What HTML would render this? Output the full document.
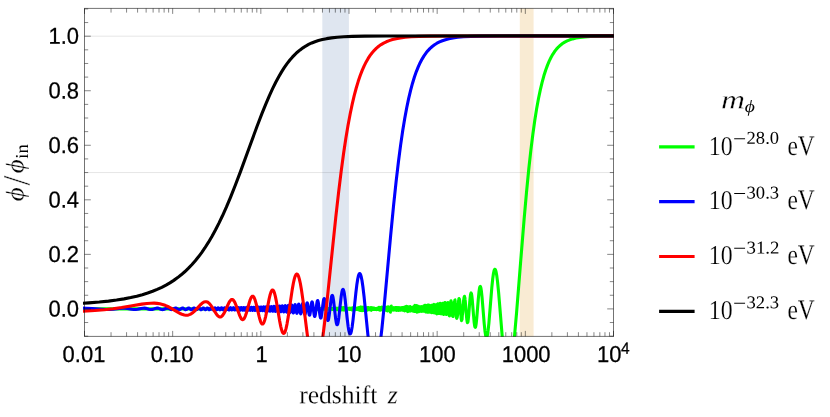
<!DOCTYPE html>
<html lang="en"><head><meta charset="utf-8"><title>phi evolution</title>
<style>
html,body{margin:0;padding:0;background:#fff;}
body{width:830px;height:417px;overflow:hidden;position:relative;font-family:"Liberation Sans",sans-serif;}
svg{position:absolute;left:0;top:0;}
text{font-kerning:none;fill:#000;}
svg{will-change:transform;}
.sf{font-family:"Liberation Serif",serif;}
.tk{font-family:"Liberation Sans",sans-serif;font-size:22px;stroke:#000;stroke-width:0.25px;}
</style></head><body>
<svg width="830" height="417" viewBox="0 0 830 417">
<rect x="0" y="0" width="830" height="417" fill="#ffffff"/>
<defs><clipPath id="cp"><rect x="82.80" y="8.00" width="531.00" height="328.80"/></clipPath></defs>
<rect x="322.3" y="8.40" width="26.6" height="328.00" fill="rgb(94,129,181)" fill-opacity="0.2"/>
<rect x="519.8" y="8.40" width="13.8" height="328.00" fill="rgb(225,156,36)" fill-opacity="0.2"/>
<line x1="84.50" x2="613.50" y1="36.20" y2="36.20" stroke="#000" stroke-opacity="0.13" stroke-width="0.8"/>
<line x1="84.50" x2="613.50" y1="172.55" y2="172.55" stroke="#000" stroke-opacity="0.13" stroke-width="0.8"/>
<g clip-path="url(#cp)" fill="none" stroke-width="3.10" stroke-linejoin="round" stroke-linecap="square">
<path d="M613.50,35.96 L599.23,36.13 L590.78,36.43 L584.72,36.86 L579.98,37.40 L576.06,38.07 L572.72,38.87 L569.79,39.81 L567.15,40.89 L564.74,42.13 L562.50,43.55 L560.40,45.17 L558.39,47.02 L556.46,49.13 L554.59,51.54 L552.77,54.31 L550.97,57.48 L549.19,61.14 L547.42,65.35 L545.65,70.20 L543.88,75.83 L542.10,82.33 L540.31,89.84 L538.50,98.52 L536.67,108.59 L534.80,120.28 L532.88,133.94 L530.90,149.90 L528.81,168.75 L526.59,191.28 L524.10,219.32 L520.81,259.67 L516.58,312.65 L514.61,334.94 L513.13,349.50 L511.94,359.25 L510.96,365.67 L510.15,366.40 L509.48,366.40 L508.94,366.40 L508.51,366.40 L508.17,366.40 L507.84,366.40 L507.45,366.40 L506.97,366.40 L506.38,366.40 L505.66,366.40 L504.82,361.94 L503.80,353.42 L502.54,340.28 L500.40,314.04 L498.60,292.31 L497.53,281.60 L496.73,275.40 L496.10,271.90 L495.61,270.17 L495.24,269.44 L494.97,269.25 L494.72,269.32 L494.40,269.78 L493.97,271.04 L493.41,273.74 L492.72,278.75 L491.81,287.60 L490.26,306.50 L488.87,323.30 L488.06,330.88 L487.47,334.81 L487.03,336.64 L486.71,337.31 L486.49,337.45 L486.27,337.32 L485.96,336.67 L485.53,334.86 L484.96,330.94 L484.18,323.31 L482.02,296.93 L481.34,290.70 L480.87,287.85 L480.52,286.72 L480.30,286.43 L480.12,286.46 L479.86,286.92 L479.49,288.43 L478.98,292.03 L478.24,299.76 L476.73,318.42 L476.20,323.44 L475.78,326.07 L475.57,326.90 L475.36,327.28 L475.25,327.33 L475.15,327.31 L474.93,326.87 L474.62,325.53 L474.19,322.52 L473.45,314.43 L472.29,300.03 L471.87,296.10 L471.44,293.59 L471.34,293.50 L471.23,293.47 L471.13,293.03 L471.02,292.94 L470.91,293.48 L470.81,293.52 L470.60,294.64 L470.49,294.90 L469.96,299.40 L469.86,301.06 L469.75,301.79 L468.69,315.48 L468.48,317.17 L468.27,319.37 L468.16,319.97 L468.06,321.18 L467.85,322.11 L467.74,322.26 L467.53,322.29 L467.42,322.65 L467.32,322.05 L467.21,322.08 L466.79,319.16 L466.68,317.99 L466.58,317.49 L466.05,311.02 L465.52,304.07 L465.20,300.64 L465.10,300.00 L464.88,297.56 L464.78,298.14 L464.67,297.69 L464.46,296.30 L464.35,296.96 L464.25,296.75 L464.04,297.61 L463.83,299.46 L463.61,300.32 L463.30,303.73 L463.09,307.73 L462.98,307.74 L462.77,312.15 L462.45,314.65 L462.34,314.84 L462.03,319.64 L461.92,318.68 L461.82,319.12 L461.60,319.12 L461.50,320.74 L461.39,318.17 L461.29,319.36 L461.18,318.94 L461.07,316.34 L460.86,314.77 L460.76,314.97 L460.55,310.14 L460.44,309.13 L460.33,309.75 L460.12,306.60 L460.02,304.06 L459.91,304.56 L459.81,303.72 L459.70,300.67 L459.59,301.67 L459.49,299.26 L459.38,299.14 L459.28,299.72 L459.06,300.19 L458.96,298.48 L458.75,300.80 L458.64,299.98 L458.54,302.53 L458.32,304.57 L458.22,306.86 L458.11,307.46 L458.01,309.01 L457.90,309.24 L457.80,311.92 L457.69,311.25 L457.48,315.60 L457.37,316.04 L457.27,316.98 L457.16,316.94 L457.05,317.66 L456.95,317.77 L456.84,317.54 L456.63,318.30 L456.53,317.76 L456.42,315.56 L456.21,313.26 L456.10,313.69 L456.00,310.98 L455.89,310.59 L455.78,308.75 L455.68,308.16 L455.57,305.38 L455.47,305.58 L455.36,303.26 L455.26,303.73 L455.15,301.18 L454.94,299.92 L454.83,301.62 L454.73,301.13 L454.52,301.35 L454.41,303.08 L454.30,303.98 L454.20,302.77 L453.99,307.09 L453.88,307.25 L453.77,310.19 L453.67,309.91 L453.56,310.55 L453.46,313.77 L453.35,313.72 L453.14,316.51 L453.03,315.63 L452.93,316.56 L452.72,315.17 L452.61,315.79 L452.50,315.65 L452.40,315.76 L452.29,312.76 L452.08,312.03 L451.98,308.65 L451.87,308.14 L451.66,305.39 L451.55,303.12 L451.45,302.20 L451.34,302.85 L451.24,302.70 L451.13,301.22 L451.02,301.89 L450.92,300.86 L450.81,302.87 L450.71,302.17 L450.60,303.26 L450.49,305.45 L450.39,306.13 L450.28,308.32 L450.18,309.03 L450.07,310.88 L449.97,311.41 L449.75,314.31 L449.65,314.42 L449.54,315.60 L449.44,315.87 L449.33,315.83 L448.91,312.63 L448.80,312.32 L448.59,309.12 L448.38,306.08 L447.96,302.59 L447.85,302.62 L447.74,302.58 L447.64,302.69 L447.32,304.94 L447.21,306.90 L447.11,307.96 L447.00,310.06 L446.58,313.95 L446.47,314.49 L446.37,314.56 L446.26,314.56 L446.16,313.96 L446.05,313.85 L445.84,311.07 L445.73,310.88 L445.42,305.81 L445.31,305.85 L445.20,304.96 L445.10,303.21 L444.99,302.49 L444.89,303.43 L444.78,302.60 L444.68,305.02 L444.46,306.62 L444.36,306.97 L444.25,308.86 L444.15,308.05 L444.04,312.49 L443.94,312.81 L443.83,314.52 L443.72,314.27 L443.62,313.52 L443.51,314.34 L443.41,312.51 L443.30,312.11 L443.19,312.71 L442.98,307.96 L442.88,307.48 L442.77,305.36 L442.67,305.68 L442.56,303.42 L442.45,304.82 L442.35,303.63 L442.24,304.94 L442.14,305.40 L442.03,305.51 L441.92,305.45 L441.61,311.65 L441.50,312.37 L441.40,311.76 L441.29,313.36 L441.18,313.49 L441.08,313.84 L440.97,312.26 L440.87,312.77 L440.66,309.22 L440.55,309.77 L440.34,305.03 L440.23,304.92 L440.13,304.94 L440.02,303.20 L439.91,304.51 L439.81,304.67 L439.49,309.10 L439.39,308.90 L439.28,311.90 L439.17,311.29 L439.07,312.58 L438.96,312.99 L438.86,312.99 L438.75,313.45 L438.54,311.99 L438.33,308.65 L438.22,305.11 L438.12,306.85 L438.01,305.64 L437.90,305.06 L437.80,303.83 L437.69,304.07 L437.48,305.73 L437.16,310.51 L437.06,312.61 L436.95,311.83 L436.85,314.01 L436.74,313.83 L436.63,311.57 L436.53,311.84 L436.42,308.88 L436.21,307.23 L436.11,305.94 L436.00,306.71 L435.89,304.82 L435.68,305.51 L435.47,308.87 L435.37,307.87 L435.15,310.06 L435.05,312.33 L434.94,313.03 L434.84,311.00 L434.73,310.70 L434.62,312.86 L434.52,310.30 L434.41,309.72 L434.31,305.82 L434.10,304.52 L433.99,304.44 L433.88,306.86 L433.78,308.10 L433.67,306.30 L433.46,310.81 L433.35,309.74 L433.25,310.50 L433.14,312.72 L433.04,311.27 L432.93,310.82 L432.83,309.55 L432.72,309.97 L432.51,307.81 L432.40,305.17 L432.30,305.13 L432.19,306.08 L432.09,306.18 L431.98,306.99 L431.87,310.35 L431.77,310.58 L431.66,310.60 L431.56,312.73 L431.45,311.50 L431.24,310.76 L431.03,308.55 L430.92,309.01 L430.82,306.49 L430.71,305.77 L430.60,305.75 L430.39,308.50 L430.29,308.57 L430.18,311.12 L430.08,310.67 L429.97,311.16 L429.86,312.19 L429.76,310.62 L429.65,310.97 L429.55,309.23 L429.44,308.28 L429.33,305.79 L429.23,305.22 L429.12,305.51 L429.02,305.44 L428.91,308.15 L428.81,309.48 L428.59,310.99 L428.49,312.15 L428.38,311.90 L428.17,310.63 L427.96,306.92 L427.85,306.43 L427.75,305.15 L427.43,307.56 L427.32,310.70 L427.22,310.58 L427.11,312.12 L427.01,311.17 L426.90,311.04 L426.80,310.69 L426.69,307.68 L426.58,306.45 L426.48,305.92 L426.37,306.22 L426.27,305.95 L426.16,307.86 L426.05,308.27 L425.84,312.06 L425.74,311.97 L425.63,311.15 L425.53,309.64 L425.31,307.99 L425.21,305.24 L425.10,305.28 L425.00,306.63 L424.89,306.39 L424.78,307.68 L424.68,310.97 L424.57,310.59 L424.47,311.18 L424.26,310.72 L424.04,306.68 L423.94,306.77 L423.83,305.71 L423.62,308.87 L423.41,310.81 L423.30,311.03 L423.20,310.84 L422.99,309.38 L422.88,307.58 L422.77,306.82 L422.67,306.81 L422.56,307.01 L422.35,309.65 L422.14,311.05 L422.03,311.24 L421.72,307.41 L421.61,306.65 L421.51,306.61 L421.40,307.22 L421.08,310.92 L420.98,311.35 L420.55,306.72 L420.45,306.70 L420.24,308.47 L420.13,310.35 L420.02,310.72 L419.92,310.78 L419.60,307.37 L419.49,307.29 L419.39,306.86 L419.18,309.22 L419.07,309.91 L418.97,311.63 L418.86,311.10 L418.65,307.52 L418.44,306.26 L418.33,306.60 L418.23,309.31 L418.12,310.56 L418.01,311.23 L417.59,306.94 L417.48,307.72 L417.38,307.71 L417.27,309.97 L417.17,308.88 L417.06,312.14 L416.96,311.56 L416.74,306.60 L416.64,308.54 L416.53,305.59 L416.43,306.30 L416.21,309.34 L416.11,309.83 L416.00,311.45 L415.79,306.49 L415.69,308.15 L415.47,308.85 L415.37,311.16 L415.16,308.90 L415.05,309.59 L414.95,308.99 L414.84,305.42 L414.73,306.92 L414.63,306.95 L414.52,308.32 L414.42,311.55 L414.31,309.48 L414.20,309.07 L414.10,306.21 L413.99,308.46 L413.89,307.13 L413.68,311.07 L413.57,311.07 L413.46,309.55 L413.36,309.37 L413.25,307.80 L413.15,307.93 L413.04,309.31 L412.94,308.36 L412.72,311.08 L412.62,310.37 L412.51,308.62 L412.41,308.21 L412.30,307.40 L412.19,309.87 L412.09,309.54 L411.98,310.82 L411.88,310.19 L411.67,308.31 L411.56,308.39 L411.45,307.62 L411.35,309.36 L411.14,310.51 L410.92,307.73 L410.82,308.60 L410.71,308.46 L410.50,309.70 L410.40,309.98 L410.29,309.45 L410.18,307.33 L410.08,306.64 L409.97,309.47 L409.87,310.61 L409.76,311.10 L409.44,307.04 L409.34,307.80 L409.23,309.87 L409.13,308.80 L409.02,308.51 L408.91,310.25 L408.81,307.38 L408.70,307.81 L408.60,310.52 L408.49,309.36 L408.39,311.09 L408.28,308.68 L408.17,308.91 L408.07,306.86 L407.96,309.94 L407.86,308.76 L407.75,311.63 L407.65,309.56 L407.54,308.94 L407.43,306.85 L407.33,308.29 L407.22,311.08 L407.12,309.71 L407.01,309.43 L406.90,308.85 L406.80,306.62 L406.69,309.31 L406.59,309.17 L406.48,309.24 L406.27,306.20 L406.16,308.75 L405.95,309.26 L405.85,308.95 L405.74,309.73 L405.63,307.95 L405.53,309.00 L405.42,308.68 L405.32,310.14 L405.11,307.17 L405.00,308.77 L404.89,309.24 L404.79,308.85 L404.68,310.92 L404.58,309.76 L404.47,307.38 L404.37,307.16 L404.15,310.45 L403.94,307.25 L403.84,307.25 L403.73,308.35 L403.62,310.48 L403.41,307.98 L403.31,307.55 L403.20,308.14 L403.10,309.42 L402.99,310.11 L402.78,307.43 L402.67,308.18 L402.57,310.13 L402.46,310.12 L402.35,308.23 L402.25,307.60 L402.14,308.23 L402.04,309.85 L401.93,309.94 L401.83,308.60 L401.72,308.02 L401.61,308.54 L401.51,309.78 L401.19,307.92 L400.98,309.63 L400.87,309.26 L400.77,308.48 L400.66,308.15 L400.56,308.84 L400.45,310.26 L400.24,307.77 L400.03,309.14 L399.92,309.09 L399.82,308.08 L399.60,308.25 L399.50,309.99 L399.39,308.45 L399.29,307.82 L399.18,308.96 L399.08,309.52 L398.97,309.49 L398.86,309.05 L398.76,307.77 L398.55,310.46 L398.44,309.67 L398.33,307.81 L398.23,308.03 L398.12,308.97 L398.02,309.26 L397.91,308.17 L397.70,310.21 L397.49,307.95 L397.38,307.79 L397.28,309.83 L397.06,307.52 L396.96,307.50 L396.85,309.35 L396.64,307.84 L396.54,308.67 L396.43,310.35 L396.22,307.61 L396.11,307.72 L395.90,309.84 L395.80,308.06 L395.69,308.53 L395.58,310.03 L395.48,308.94 L395.37,308.79 L395.27,307.92 L395.05,309.83 L394.95,307.78 L394.74,309.68 L394.63,308.16 L394.53,308.34 L394.42,309.31 L394.31,309.51 L394.21,308.57 L394.10,308.22 L394.00,309.92 L393.89,309.97 L393.79,307.64 L393.68,309.27 L393.57,309.23 L393.47,308.08 L393.26,309.17 L393.15,310.17 L393.04,308.45 L392.94,308.40 L392.83,308.83 L392.73,309.66 L392.62,307.75 L392.52,309.90 L392.41,309.56 L392.30,308.35 L392.20,308.21 L392.09,309.96 L391.88,308.10 L391.77,309.92 L391.67,309.27 L391.56,309.22 L391.46,308.08 L391.35,308.50 L391.25,306.13 L391.03,310.51 L390.93,309.90 L390.82,307.47 L390.61,309.46 L390.51,308.35 L390.40,312.24 L390.19,307.90 L390.08,307.61 L389.98,310.68 L389.87,308.90 L389.76,308.17 L389.66,308.80 L389.55,310.12 L389.45,307.24 L389.34,308.71 L389.24,308.16 L389.13,309.73 L389.02,310.05 L388.92,309.13 L388.81,308.85 L388.71,307.68 L388.60,309.48 L388.49,309.86 L388.28,306.96 L388.18,307.62 L388.07,306.71 L387.97,308.98 L387.86,307.09 L387.75,309.40 L387.65,306.98 L387.54,310.37 L387.44,310.98 L387.33,308.42 L387.23,309.03 L387.12,308.95 L386.91,310.73 L386.80,309.29 L386.70,309.12 L386.48,307.31 L386.38,308.39 L386.17,309.57 L386.06,308.04 L385.96,307.72 L385.85,308.49 L385.74,310.22 L385.64,309.91 L385.53,308.02 L385.43,308.99 L385.32,307.11 L385.22,308.27 L385.11,308.29 L385.00,308.92 L384.79,307.99 L384.69,309.12 L384.58,308.82 L384.47,307.50 L384.37,309.91 L384.26,308.25 L384.16,308.10 L384.05,309.04 L383.95,307.47 L383.84,308.97 L383.73,307.98 L383.63,308.68 L383.52,308.69 L383.42,307.54 L383.31,310.12 L383.10,307.61 L382.99,309.14 L382.89,309.11 L382.68,307.83 L382.57,307.70 L382.46,308.99 L382.36,307.47 L382.25,309.12 L382.15,309.44 L382.04,309.45 L381.94,308.45 L381.83,308.43 L381.72,309.60 L381.62,307.14 L381.51,308.22 L381.41,307.21 L381.30,308.44 L381.19,308.93 L380.98,309.05 L380.77,308.70 L380.67,308.19 L380.56,309.01 L380.45,309.44 L380.24,308.63 L380.14,310.30 L380.03,308.32 L379.92,307.90 L379.82,309.83 L379.71,308.48 L379.61,309.68 L379.50,308.77 L379.40,308.85 L379.29,308.42 L379.18,309.73 L379.08,308.41 L378.97,309.53 L378.87,307.37 L378.76,308.84 L378.66,309.63 L378.55,308.53 L378.34,309.01 L378.23,308.36 L378.13,309.15 L378.02,308.31 L377.91,309.15 L377.70,309.47 L377.60,308.67 L377.49,309.18 L377.28,308.80 L377.17,308.22 L376.96,308.94 L376.86,309.10 L376.75,308.46 L376.65,309.59 L376.54,308.58 L376.43,309.44 L376.33,308.65 L376.22,309.41 L376.12,308.62 L376.01,309.45 L375.90,308.63 L375.80,309.33 L375.69,308.69 L375.59,309.21 L375.48,308.55 L375.27,308.97 L375.16,308.53 L375.06,309.14 L374.95,308.51 L374.85,309.42 L374.74,308.34 L374.63,309.05 L374.42,308.81 L374.32,309.20 L374.21,308.62 L374.11,309.21 L374.00,308.15 L373.89,309.08 L373.79,308.30 L373.68,308.81 L373.58,308.82 L373.47,308.22 L373.37,308.96 L373.26,308.37 L373.15,309.53 L373.05,308.27 L372.94,308.50 L372.84,309.10 L372.73,307.87 L372.62,309.39 L372.52,308.45 L372.41,308.27 L372.20,308.80 L372.10,309.41 L371.88,308.37 L371.78,308.39 L371.67,308.82 L371.57,309.76 L371.46,308.00 L371.25,310.32 L371.14,309.95 L371.04,307.47 L370.93,308.20 L370.83,309.75 L370.72,308.23 L370.61,309.40 L370.51,308.04 L370.40,309.90 L370.30,307.80 L370.19,309.07 L370.09,307.72 L369.98,309.46 L369.87,308.58 L369.77,309.63 L369.66,309.13 L369.56,307.98 L369.45,308.00 L369.34,309.05 L369.24,309.16 L369.13,308.76 L369.03,309.75 L368.92,307.80 L368.71,308.89 L368.60,308.66 L368.50,307.48 L368.39,309.10 L368.29,309.29 L368.18,308.35 L367.97,309.19 L367.86,307.85 L367.76,309.99 L367.65,309.26 L367.55,307.77 L367.33,309.47 L367.23,309.26 L367.12,308.05 L367.02,307.88 L366.81,308.96 L366.70,308.29 L366.59,308.57 L366.49,309.31 L366.38,309.66 L366.28,309.67 L366.17,308.18 L366.06,310.86 L365.96,309.41 L365.85,309.37 L365.64,308.40 L365.54,309.28 L365.43,309.22 L365.32,307.40 L365.22,308.26 L365.11,310.26 L365.01,309.26 L364.90,307.44 L364.80,309.12 L364.69,309.32 L364.58,309.33 L364.48,307.71 L364.37,310.06 L364.27,308.79 L364.16,308.91 L363.95,310.01 L363.84,307.26 L363.74,307.89 L363.63,307.33 L363.42,310.48 L363.31,309.67 L363.21,308.13 L363.10,310.51 L363.00,307.49 L362.89,310.17 L362.79,307.24 L362.57,310.50 L362.47,308.27 L362.26,307.50 L362.15,308.98 L362.04,307.27 L361.94,310.65 L361.83,307.41 L361.73,308.89 L361.62,308.52 L361.52,309.94 L361.41,308.01 L361.30,309.36 L361.20,307.27 L361.09,308.35 L360.99,307.14 L360.77,310.15 L360.67,309.86 L360.56,310.28 L360.46,310.37 L360.35,307.51 L360.25,307.59 L360.14,307.46 L360.03,308.98 L359.93,307.41 L359.72,310.07 L359.61,307.61 L359.51,308.25 L359.40,307.90 L359.29,310.08 L359.19,310.06 L359.08,308.02 L358.98,307.56 L358.87,307.63 L358.76,309.28 L358.66,308.43 L358.55,308.45 L358.45,308.86 L358.34,309.67 L358.24,309.03 L358.13,307.75 L357.92,308.63 L357.81,308.22 L357.71,308.54 L357.60,308.58 L357.49,308.11 L357.39,308.70 L357.28,308.01 L357.18,308.27 L357.07,308.84 L356.97,308.86 L356.75,309.40 L356.65,309.22 L356.54,309.23 L356.44,309.00 L356.23,309.46 L356.12,308.62 L356.01,308.29 L355.91,309.17 L355.80,309.04 L355.70,308.16 L355.59,308.32 L355.48,309.20 L355.38,309.32 L355.27,309.02 L355.17,309.73 L354.96,309.29 L354.85,309.37 L354.74,308.49 L354.64,308.29 L354.43,308.87 L354.32,309.35 L354.22,308.74 L354.11,309.12 L354.00,308.51 L353.79,309.55 L353.69,309.65 L353.58,308.18 L353.37,309.73 L353.26,309.61 L353.05,308.00 L352.95,309.99 L352.84,309.18 L352.73,309.67 L352.63,308.14 L352.52,308.21 L352.42,308.16 L352.31,309.33 L352.20,307.78 L352.10,309.76 L351.99,309.82 L351.89,308.12 L351.78,308.64 L351.68,309.70 L351.57,309.17 L351.46,309.39 L351.36,308.27 L351.25,308.63 L351.15,309.43 L351.04,309.38 L350.94,309.43 L350.83,308.77 L350.72,308.47 L350.62,308.50 L350.51,308.36 L350.41,308.94 L350.30,309.03 L350.19,308.52 L349.98,309.28 L349.88,308.41 L349.77,309.30 L349.67,308.62 L349.56,309.04 L349.45,309.27 L349.24,308.29 L349.14,309.06 L349.03,308.74 L348.82,308.78 L348.71,308.44 L348.50,308.77 L348.40,308.63 L348.29,309.30 L348.18,308.49 L348.08,309.03 L347.97,309.03 L347.87,308.89 L347.76,308.98 L347.66,309.01 L347.55,308.62 L347.34,308.41 L347.23,309.13 L347.13,308.91 L347.02,309.25 L346.91,308.57 L346.81,309.47 L346.70,309.92 L346.49,308.74 L346.39,308.56 L346.28,309.20 L346.17,308.48 L346.07,309.20 L345.96,309.18 L345.86,309.35 L345.75,308.38 L345.65,309.53 L345.54,309.73 L345.43,308.49 L345.33,308.12 L345.12,309.82 L345.01,308.86 L344.80,309.10 L344.69,308.58 L344.59,310.02 L344.48,307.84 L344.38,307.73 L344.27,309.30 L344.16,307.68 L344.06,309.68 L343.95,308.89 L343.85,308.64 L343.63,309.94 L343.53,309.11 L343.42,307.53 L343.32,309.27 L343.21,308.72 L343.11,309.25 L343.00,309.36 L342.68,309.00 L342.58,309.35 L342.47,309.50 L342.37,308.18 L342.26,308.35 L342.15,308.12 L342.05,308.52 L341.94,307.98 L341.84,309.98 L341.62,308.12 L341.52,307.70 L341.41,309.45 L341.20,307.97 L341.10,308.22 L340.99,308.15 L340.88,307.98 L340.78,309.36 L340.67,309.66 L340.57,308.46 L340.46,307.82 L340.25,309.47 L340.14,309.04 L340.04,308.13 L339.93,307.87 L339.83,308.21 L339.72,308.93 L339.61,308.25 L339.51,308.55 L339.40,308.40 L339.30,308.84 L339.19,308.66 L339.09,309.10 L338.98,309.13 L338.77,309.51 L338.56,309.46 L338.45,308.19 L338.34,308.04 L338.24,309.48 L338.13,309.18 L338.03,309.09 L337.92,309.57 L337.82,308.34 L337.60,308.82 L337.50,309.36 L337.39,308.87 L337.29,309.27 L337.18,308.95 L336.86,309.66 L336.76,309.66 L336.33,309.49 L336.23,308.29 L336.02,309.58 L335.81,308.41 L335.70,309.49 L335.59,309.74 L335.38,308.95 L335.28,309.05 L335.17,308.82 L335.07,309.70 L334.96,309.76 L334.85,308.87 L334.75,309.74 L334.54,308.02 L334.43,309.09 L334.22,308.19 L334.11,309.80 L334.01,308.48 L333.90,308.57 L333.80,309.57 L333.69,308.87 L333.58,309.59 L333.48,308.17 L333.37,309.01 L333.27,308.43 L333.16,308.38 L332.95,309.26 L332.84,309.37 L332.63,309.01 L332.53,309.38 L332.42,309.19 L332.31,308.44 L332.21,308.81 L332.00,309.13 L331.89,308.72 L331.79,309.21 L331.68,309.19 L331.57,309.34 L331.47,308.84 L331.36,308.92 L331.15,308.64 L331.04,309.05 L330.94,308.69 L330.83,308.99 L330.73,308.91 L330.62,309.02 L330.41,308.81 L330.20,309.05 L330.09,308.90 L329.99,308.99 L329.88,308.67 L329.77,309.01 L329.56,308.81 L329.46,308.88 L329.35,308.89 L329.14,308.80 L329.03,308.68 L328.93,308.95 L328.82,308.67 L328.72,308.98 L328.51,308.83 L328.40,309.08 L328.29,308.73 L328.19,308.69 L328.08,309.03 L327.98,308.57 L327.87,308.75 L327.76,308.65 L327.66,308.97 L327.55,308.78 L327.45,309.06 L327.34,309.00 L327.13,309.15 L326.92,308.89 L326.81,309.24 L326.71,308.89 L326.50,308.70 L326.39,308.94 L326.28,309.03 L326.18,308.64 L326.07,308.63 L325.97,309.12 L325.75,308.63 L325.65,308.83 L325.54,308.54 L325.44,309.16 L325.33,309.03 L325.23,309.07 L325.12,308.62 L325.01,308.97 L324.80,309.19 L324.70,308.86 L324.48,309.02 L324.38,308.55 L324.27,308.80 L324.17,308.85 L324.06,308.51 L323.96,308.97 L323.85,308.47 L323.74,309.06 L323.64,308.73 L323.53,308.79 L323.43,309.09 L323.22,308.51 L323.11,308.92 L323.00,308.73 L322.79,308.91 L322.69,308.58 L322.58,309.02 L322.47,308.70 L322.37,309.05 L322.26,309.12 L321.95,308.70 L321.84,308.95 L321.73,308.89 L321.63,308.91 L321.20,308.75 L321.10,308.88 L320.99,308.71 L320.89,308.68 L320.68,308.86 L320.57,309.02 L320.46,308.80 L320.36,308.83 L320.15,309.04 L319.94,308.65 L319.83,308.78 L319.72,308.71 L319.62,308.84 L319.51,309.11 L319.41,308.65 L319.30,308.90 L319.19,308.88 L319.09,309.02 L318.98,308.99 L318.88,308.76 L318.77,309.03 L318.56,309.02 L318.45,308.85 L318.35,309.03 L318.24,308.81 L318.14,308.86 L318.03,308.67 L317.93,308.61 L317.82,309.09 L317.71,309.12 L317.61,308.64 L317.40,309.10 L317.29,309.59 L317.18,309.02 L317.08,308.98 L316.97,309.02 L316.87,308.71 L316.76,309.02 L316.66,309.04 L316.55,308.63 L316.44,308.56 L316.34,308.85 L316.23,308.53 L316.02,309.10 L315.91,308.92 L315.81,309.01 L315.60,308.58 L315.49,308.83 L315.39,308.73 L315.28,308.81 L315.17,308.70 L315.07,308.72 L314.96,309.47 L314.86,308.71 L314.75,308.72 L314.65,308.93 L314.54,308.69 L314.43,308.96 L314.33,308.83 L314.22,309.01 L314.12,308.96 L314.01,308.76 L313.90,308.68 L313.80,308.98 L313.69,308.95 L313.59,308.84 L313.38,308.98 L313.27,308.98 L313.06,308.73 L312.95,308.92 L312.85,308.75 L312.64,308.90 L312.32,308.85 L312.21,308.94 L311.79,308.94 L311.47,308.79 L311.37,308.84 L311.26,308.81 L311.15,308.91 L310.94,308.90 L310.73,308.78 L310.52,308.88 L310.20,308.85 L310.10,308.90 L309.88,308.81 L309.78,308.88 L309.57,308.81 L309.36,308.87 L309.25,308.81 L309.14,308.88 L308.93,308.82 L308.83,308.89 L308.72,308.81 L308.61,308.87 L308.19,308.83 L308.09,308.88 L307.98,308.82 L307.87,308.88 L307.77,308.82 L307.66,308.88 L307.56,308.83 L307.34,308.85 L307.24,308.83 L307.13,308.88 L307.03,308.81 L306.92,308.88 L306.71,308.83 L306.60,308.89 L306.50,308.82 L306.29,308.88 L306.18,308.82 L305.97,308.89 L305.76,308.82 L305.55,308.88 L305.33,308.82 L305.12,308.89 L304.81,308.82 L304.38,308.88 L303.75,308.82 L302.37,308.84 L302.05,308.88 L301.74,308.82 L301.42,308.88 L301.21,308.82 L301.00,308.88 L300.79,308.82 L300.57,308.87 L300.47,308.82 L300.26,308.88 L300.15,308.82 L299.94,308.87 L299.83,308.82 L299.73,308.88 L299.52,308.85 L299.30,308.83 L299.20,308.88 L299.09,308.82 L298.99,308.88 L298.88,308.82 L298.78,308.88 L298.67,308.82 L298.56,308.88 L298.46,308.82 L298.35,308.88 L298.25,308.83 L298.03,308.85 L297.93,308.83 L297.82,308.88 L297.72,308.82 L297.51,308.86 L297.40,308.82 L297.19,308.86 L297.08,308.82 L296.87,308.87 L296.66,308.83 L296.45,308.87 L296.24,308.83 L295.92,308.86 L295.60,308.84 L295.18,308.86 L293.70,308.83 L293.06,308.85 L292.74,308.84 L292.43,308.85 L292.00,308.86 L291.79,308.85 L291.58,308.84 L291.26,308.85 L291.16,308.83 L291.05,308.87 L290.84,308.84 L290.73,308.87 L290.63,308.83 L290.42,308.84 L290.10,308.83 L289.99,308.87 L289.89,308.83 L289.78,308.87 L289.68,308.83 L289.57,308.87 L289.46,308.83 L289.36,308.87 L288.94,308.84 L288.83,308.87 L288.72,308.83 L288.51,308.85 L288.41,308.83 L288.30,308.87 L288.09,308.83 L287.88,308.85 L287.03,308.84 L286.50,308.85 L285.34,308.83 L283.65,308.85 L283.01,308.85 L282.27,308.85 L281.00,308.83 L280.58,308.86 L280.47,308.83 L280.37,308.87 L280.26,308.83 L278.88,308.87 L278.78,308.83 L278.36,308.86 L277.93,308.84 L277.40,308.85 L84.53,308.85" stroke="#00ff00"/>
<path d="M613.50,35.90 L500.06,35.95 L481.49,36.11 L470.89,36.39 L463.44,36.80 L457.67,37.33 L452.96,37.98 L448.96,38.75 L445.47,39.66 L442.36,40.70 L439.54,41.89 L436.95,43.24 L434.53,44.77 L432.26,46.48 L430.09,48.42 L428.01,50.60 L425.98,53.08 L424.01,55.89 L422.07,59.07 L420.14,62.70 L418.24,66.84 L416.34,71.58 L414.43,77.00 L412.53,83.19 L410.60,90.30 L408.68,98.39 L406.72,107.72 L404.73,118.46 L402.70,130.80 L400.61,145.14 L398.44,161.74 L396.13,181.42 L393.61,205.18 L390.62,235.88 L384.10,306.80 L381.97,327.97 L380.34,342.10 L379.02,351.86 L377.93,358.47 L377.01,362.83 L376.24,365.60 L375.60,366.40 L375.07,366.40 L374.65,366.40 L374.28,366.40 L373.89,366.40 L373.43,366.40 L372.87,366.40 L372.20,364.45 L371.40,361.00 L370.47,355.63 L369.34,347.42 L367.91,334.83 L364.10,296.90 L362.90,286.74 L361.99,280.56 L361.26,276.94 L360.68,274.94 L360.24,274.01 L359.89,273.65 L359.61,273.60 L359.29,273.82 L358.88,274.52 L358.37,276.04 L357.72,279.01 L356.91,284.18 L355.83,293.08 L353.05,319.86 L352.13,326.97 L351.46,330.80 L350.95,332.76 L350.56,333.63 L350.28,333.91 L350.03,333.91 L349.73,333.60 L349.33,332.64 L348.80,330.47 L348.11,326.25 L347.14,318.20 L345.15,299.46 L344.39,293.91 L343.84,291.13 L343.44,289.88 L343.14,289.43 L342.91,289.37 L342.66,289.58 L342.31,290.39 L341.83,292.37 L341.18,296.57 L340.14,305.68 L338.85,317.41 L338.20,321.83 L337.74,323.83 L337.41,324.60 L337.18,324.78 L336.96,324.69 L336.67,324.12 L336.24,322.50 L335.66,318.87 L334.64,309.95 L333.61,300.97 L333.05,297.42 L332.66,295.94 L332.40,295.45 L332.20,295.38 L331.99,295.57 L331.67,296.39 L331.22,298.62 L330.53,303.81 L329.19,315.59 L328.66,318.85 L328.31,320.11 L328.06,320.49 L327.88,320.50 L327.65,320.17 L327.30,318.96 L326.79,315.87 L325.20,302.45 L324.73,299.74 L324.41,298.77 L324.22,298.56 L324.04,298.62 L323.77,299.17 L323.39,300.90 L322.77,305.42 L321.69,314.51 L321.25,316.99 L320.95,317.88 L320.76,318.06 L320.58,317.94 L320.30,317.22 L319.88,314.99 L319.00,307.77 L318.34,302.79 L317.97,301.08 L317.73,300.57 L317.57,300.53 L317.36,300.84 L317.02,302.12 L316.47,305.86 L315.50,313.75 L315.12,315.75 L314.87,316.36 L314.71,316.45 L314.52,316.22 L314.22,315.18 L313.72,311.99 L312.75,304.25 L312.38,302.42 L312.15,301.92 L312.01,301.87 L311.82,302.13 L311.50,303.34 L310.95,307.15 L310.18,313.21 L309.83,314.86 L309.61,315.28 L309.47,315.30 L309.26,314.93 L308.93,313.44 L308.17,307.67 L307.66,304.15 L307.36,303.05 L307.18,302.83 L307.02,302.94 L306.76,303.72 L306.32,306.40 L305.47,312.78 L305.15,314.15 L304.96,314.47 L304.82,314.42 L304.59,313.87 L304.20,311.77 L303.30,305.13 L303.00,303.87 L302.83,303.58 L302.68,303.62 L302.46,304.17 L302.07,306.30 L301.22,312.44 L300.92,313.61 L300.76,313.82 L300.62,313.75 L300.37,313.05 L299.93,310.38 L299.25,305.47 L298.96,304.37 L298.81,304.15 L298.66,304.22 L298.42,304.94 L297.96,307.76 L297.32,312.17 L297.06,313.13 L296.90,313.31 L296.74,313.16 L296.48,312.24 L295.86,308.05 L295.42,305.36 L295.19,304.70 L295.05,304.62 L294.87,304.88 L294.56,306.27 L293.73,311.84 L293.46,312.76 L293.32,312.89 L293.16,312.72 L292.88,311.66 L292.00,305.93 L291.75,305.11 L291.61,305.00 L291.45,305.18 L291.17,306.28 L290.32,311.69 L290.08,312.45 L289.94,312.53 L289.76,312.25 L289.44,310.82 L288.72,306.19 L288.47,305.41 L288.33,305.32 L288.15,305.59 L287.84,307.02 L287.13,311.45 L286.90,312.15 L286.76,312.24 L286.58,311.96 L286.27,310.53 L285.60,306.38 L285.37,305.68 L285.23,305.59 L285.05,305.87 L284.72,307.41 L284.08,311.27 L283.85,311.92 L283.73,311.98 L283.55,311.70 L283.22,310.17 L282.60,306.50 L282.37,305.88 L282.25,305.84 L282.05,306.20 L281.68,308.04 L281.15,311.12 L280.92,311.72 L280.80,311.76 L280.61,311.38 L280.22,309.43 L279.73,306.64 L279.51,306.08 L279.39,306.04 L279.20,306.40 L278.83,308.21 L278.31,311.04 L278.10,311.54 L277.98,311.56 L277.79,311.15 L277.36,308.98 L276.92,306.67 L276.73,306.24 L276.60,306.23 L276.39,306.70 L275.90,309.33 L275.53,311.07 L275.35,311.39 L275.23,311.36 L275.00,310.77 L274.24,306.86 L274.03,306.39 L273.91,306.40 L273.69,306.89 L272.90,310.84 L272.71,311.23 L272.58,311.22 L272.37,310.74 L271.60,306.93 L271.40,306.54 L271.28,306.54 L271.07,307.02 L270.31,310.69 L270.11,311.09 L269.99,311.09 L269.78,310.64 L269.02,307.05 L268.83,306.66 L268.70,306.67 L268.49,307.14 L267.75,310.59 L267.56,310.98 L267.43,310.97 L267.22,310.51 L266.48,307.14 L266.29,306.77 L266.16,306.79 L265.94,307.32 L265.23,310.51 L265.04,310.87 L264.91,310.86 L264.70,310.40 L263.98,307.23 L263.78,306.88 L263.66,306.90 L263.43,307.42 L262.74,310.41 L262.55,310.77 L262.43,310.76 L262.21,310.33 L261.49,307.29 L261.30,306.97 L261.16,307.02 L260.91,307.64 L260.27,310.33 L260.08,310.68 L259.94,310.65 L259.71,310.14 L259.04,307.40 L258.85,307.07 L258.71,307.09 L258.48,307.60 L257.81,310.28 L257.61,310.60 L257.47,310.56 L257.22,309.99 L256.57,307.43 L256.38,307.14 L256.24,307.18 L255.99,307.76 L255.36,310.21 L255.16,310.52 L255.02,310.49 L254.77,309.95 L254.12,307.51 L253.93,307.22 L253.79,307.25 L253.54,307.79 L252.89,310.17 L252.69,310.45 L252.55,310.41 L252.30,309.88 L251.67,307.59 L251.48,307.29 L251.33,307.31 L251.11,307.74 L250.42,310.12 L250.22,310.38 L250.06,310.33 L249.80,309.74 L249.18,307.62 L248.99,307.35 L248.83,307.39 L248.57,307.96 L247.95,310.03 L247.74,310.32 L247.58,310.27 L247.31,309.71 L246.70,307.69 L246.49,307.41 L246.33,307.46 L246.06,308.00 L245.43,310.01 L245.22,310.27 L245.06,310.21 L244.77,309.61 L244.18,307.74 L243.96,307.47 L243.80,307.50 L243.54,308.00 L242.89,309.96 L242.68,310.21 L242.50,310.15 L242.20,309.52 L241.62,307.79 L241.41,307.52 L241.23,307.56 L240.95,308.08 L240.31,309.91 L240.10,310.16 L239.93,310.11 L239.64,309.60 L239.01,307.82 L238.78,307.56 L238.60,307.62 L238.30,308.18 L237.69,309.86 L237.46,310.11 L237.28,310.06 L236.98,309.52 L236.35,307.85 L236.12,307.61 L235.92,307.68 L235.61,308.26 L235.01,309.81 L234.78,310.06 L234.58,310.02 L234.28,309.52 L233.63,307.90 L233.40,307.66 L233.21,307.70 L232.91,308.18 L232.24,309.79 L232.01,310.02 L231.81,309.98 L231.51,309.52 L230.83,307.92 L230.58,307.69 L230.37,307.77 L230.03,308.33 L229.40,309.76 L229.15,309.98 L228.94,309.92 L228.60,309.40 L227.95,307.97 L227.71,307.74 L227.49,307.78 L227.18,308.23 L226.47,309.72 L226.21,309.95 L225.98,309.88 L225.62,309.34 L224.97,308.00 L224.71,307.77 L224.48,307.83 L224.14,308.29 L223.44,309.68 L223.17,309.91 L222.94,309.86 L222.61,309.44 L221.87,308.03 L221.59,307.81 L221.34,307.87 L220.99,308.34 L220.26,309.66 L219.98,309.87 L219.73,309.82 L219.38,309.39 L218.64,308.08 L218.34,307.84 L218.09,307.89 L217.74,308.29 L216.95,309.63 L216.65,309.84 L216.38,309.79 L216.01,309.36 L215.24,308.10 L214.92,307.87 L214.66,307.92 L214.27,308.34 L213.47,309.58 L213.16,309.81 L212.87,309.76 L212.49,309.37 L211.66,308.13 L211.32,307.91 L211.02,307.96 L210.62,308.36 L209.77,309.57 L209.44,309.78 L209.14,309.73 L208.73,309.36 L207.85,308.16 L207.50,307.94 L207.18,307.98 L206.76,308.35 L205.84,309.54 L205.47,309.75 L205.13,309.70 L204.69,309.32 L203.76,308.17 L203.37,307.96 L203.02,308.02 L202.54,308.42 L201.61,309.51 L201.20,309.72 L200.83,309.67 L200.35,309.30 L199.37,308.21 L198.94,307.99 L198.56,308.04 L198.06,308.40 L197.02,309.48 L196.58,309.69 L196.18,309.65 L195.66,309.30 L194.57,308.23 L194.11,308.02 L193.69,308.05 L193.16,308.38 L191.98,309.46 L191.48,309.67 L191.03,309.62 L190.44,309.27 L189.26,308.25 L188.73,308.04 L188.24,308.09 L187.62,308.44 L186.39,309.43 L185.82,309.65 L185.30,309.60 L184.64,309.26 L183.32,308.28 L182.72,308.07 L182.16,308.11 L181.47,308.44 L180.04,309.41 L179.39,309.62 L178.77,309.58 L178.01,309.24 L176.51,308.30 L175.81,308.09 L175.14,308.13 L174.33,308.46 L172.67,309.39 L171.91,309.60 L171.19,309.56 L170.29,309.24 L168.49,308.32 L167.64,308.11 L166.83,308.15 L165.85,308.47 L163.85,309.37 L162.90,309.58 L161.98,309.54 L160.85,309.21 L158.67,308.34 L157.59,308.13 L156.55,308.17 L155.26,308.49 L152.76,309.35 L151.51,309.56 L150.29,309.52 L148.78,309.20 L145.88,308.36 L144.40,308.16 L142.94,308.19 L141.10,308.51 L137.63,309.32 L135.80,309.53 L133.96,309.50 L131.64,309.18 L127.30,308.39 L124.90,308.18 L122.45,308.20 L119.26,308.52 L113.40,309.28 L109.95,309.51 L106.30,309.49 L101.23,309.18 L92.17,308.46 L86.07,308.22 L84.50,308.19" stroke="#0000ff"/>
<path d="M613.50,35.90 L450.22,35.94 L430.24,36.10 L419.07,36.38 L411.26,36.77 L405.25,37.29 L400.29,37.93 L396.12,38.69 L392.48,39.59 L389.24,40.61 L386.33,41.77 L383.62,43.10 L381.11,44.59 L378.73,46.28 L376.48,48.16 L374.30,50.30 L372.18,52.72 L370.13,55.43 L368.15,58.45 L366.16,61.91 L364.18,65.86 L362.19,70.38 L360.21,75.52 L358.23,81.36 L356.24,87.98 L354.26,95.46 L352.21,104.17 L350.16,113.96 L348.04,125.28 L345.86,138.34 L343.61,153.32 L341.23,170.89 L338.65,191.84 L335.74,217.64 L331.71,256.10 L327.01,301.36 L324.63,322.50 L322.84,336.64 L321.32,347.10 L320.07,354.40 L319.01,359.46 L318.08,362.99 L317.29,365.31 L316.63,366.40 L316.03,366.40 L315.57,366.40 L315.11,366.40 L314.64,366.40 L314.18,366.40 L313.59,366.40 L312.92,365.25 L312.13,362.84 L311.20,359.15 L310.15,353.84 L308.89,346.17 L307.24,334.30 L302.94,300.15 L301.48,290.03 L300.36,283.54 L299.43,279.32 L298.71,276.81 L298.11,275.34 L297.58,274.49 L297.18,274.14 L296.85,274.04 L296.52,274.11 L296.13,274.43 L295.60,275.24 L295.00,276.67 L294.27,279.13 L293.35,283.28 L292.22,289.62 L290.44,301.61 L288.19,317.13 L287.00,324.10 L286.07,328.40 L285.35,330.92 L284.75,332.36 L284.29,333.06 L283.89,333.37 L283.56,333.42 L283.23,333.27 L282.77,332.75 L282.24,331.71 L281.58,329.79 L280.72,326.36 L279.59,320.60 L276.42,301.68 L275.36,296.42 L274.57,293.36 L273.91,291.51 L273.38,290.54 L272.98,290.12 L272.65,289.98 L272.32,290.02 L271.92,290.32 L271.46,291.00 L270.86,292.37 L270.14,294.72 L269.14,298.92 L267.03,309.80 L265.71,316.27 L264.78,319.93 L264.05,322.07 L263.46,323.28 L262.99,323.84 L262.60,324.06 L262.27,324.06 L261.87,323.83 L261.41,323.27 L260.81,322.11 L260.08,320.08 L259.09,316.46 L256.12,303.63 L255.12,300.13 L254.40,298.19 L253.80,297.06 L253.27,296.43 L252.88,296.21 L252.48,296.18 L252.02,296.42 L251.49,297.01 L250.83,298.20 L249.97,300.40 L248.78,304.31 L246.39,312.90 L245.34,316.04 L244.54,317.84 L243.88,318.88 L243.35,319.40 L242.89,319.61 L242.43,319.61 L241.96,319.39 L241.37,318.80 L240.64,317.66 L239.71,315.65 L238.33,311.84 L236.14,305.50 L235.02,302.79 L234.16,301.20 L233.43,300.25 L232.84,299.76 L232.31,299.55 L231.78,299.56 L231.18,299.80 L230.52,300.36 L229.73,301.38 L228.74,303.10 L227.15,306.51 L224.83,311.71 L223.64,313.95 L222.65,315.40 L221.86,316.24 L221.13,316.74 L220.47,316.97 L219.81,316.98 L219.08,316.75 L218.29,316.24 L217.36,315.34 L216.17,313.79 L214.32,310.84 L211.74,306.60 L210.35,304.66 L209.16,303.33 L208.10,302.46 L207.18,301.96 L206.25,301.70 L205.33,301.68 L204.33,301.91 L203.28,302.40 L202.02,303.28 L200.43,304.73 L197.59,307.83 L194.88,310.76 L193.09,312.40 L191.50,313.58 L190.05,314.38 L188.66,314.90 L187.27,315.18 L185.88,315.22 L184.36,315.03 L182.71,314.58 L180.72,313.76 L178.14,312.40 L170.87,308.05 L167.83,306.47 L165.12,305.31 L162.47,304.43 L159.83,303.79 L157.05,303.37 L154.07,303.17 L150.77,303.20 L146.86,303.48 L141.84,304.13 L132.18,305.76 L121.60,307.53 L113.07,308.72 L104.34,309.70 L94.82,310.51 L84.50,311.15" stroke="#ff0000"/>
<path d="M613.50,35.90 L386.23,35.94 L364.70,36.09 L352.35,36.36 L343.88,36.74 L337.18,37.25 L331.53,37.88 L326.59,38.65 L322.36,39.53 L318.47,40.56 L314.94,41.71 L311.77,42.97 L308.59,44.46 L305.77,46.02 L302.95,47.82 L300.12,49.88 L297.30,52.24 L294.83,54.57 L292.36,57.15 L289.89,60.02 L287.07,63.65 L284.24,67.68 L281.42,72.12 L278.60,76.97 L275.77,82.24 L272.60,88.66 L269.42,95.56 L265.89,103.77 L262.01,113.36 L257.07,126.24 L249.66,146.45 L240.48,171.60 L235.19,185.56 L230.60,197.08 L226.37,207.12 L222.48,215.77 L218.96,223.15 L215.43,230.06 L211.90,236.49 L208.37,242.46 L204.84,247.97 L201.66,252.56 L198.49,256.81 L195.31,260.74 L191.78,264.76 L188.25,268.43 L184.72,271.78 L181.20,274.83 L177.67,277.61 L173.78,280.38 L169.90,282.88 L166.02,285.13 L161.79,287.32 L157.20,289.43 L152.61,291.30 L147.67,293.06 L142.38,294.70 L136.73,296.22 L130.73,297.59 L124.03,298.88 L116.61,300.07 L108.50,301.12 L99.32,302.07 L88.73,302.91 L84.50,303.18" stroke="#000000"/>
</g>
<path d="M84.50,336.40 v-5.50 M84.50,8.40 v5.50 M111.04,336.40 v-4.20 M111.04,8.40 v4.20 M126.57,336.40 v-4.20 M126.57,8.40 v4.20 M137.58,336.40 v-4.20 M137.58,8.40 v4.20 M146.13,336.40 v-4.20 M146.13,8.40 v4.20 M153.11,336.40 v-4.20 M153.11,8.40 v4.20 M159.01,336.40 v-4.20 M159.01,8.40 v4.20 M164.12,336.40 v-4.20 M164.12,8.40 v4.20 M168.63,336.40 v-4.20 M168.63,8.40 v4.20 M172.67,336.40 v-5.50 M172.67,8.40 v5.50 M199.21,336.40 v-4.20 M199.21,8.40 v4.20 M214.73,336.40 v-4.20 M214.73,8.40 v4.20 M225.75,336.40 v-4.20 M225.75,8.40 v4.20 M234.29,336.40 v-4.20 M234.29,8.40 v4.20 M241.27,336.40 v-4.20 M241.27,8.40 v4.20 M247.18,336.40 v-4.20 M247.18,8.40 v4.20 M252.29,336.40 v-4.20 M252.29,8.40 v4.20 M256.80,336.40 v-4.20 M256.80,8.40 v4.20 M260.83,336.40 v-5.50 M260.83,8.40 v5.50 M287.37,336.40 v-4.20 M287.37,8.40 v4.20 M302.90,336.40 v-4.20 M302.90,8.40 v4.20 M313.91,336.40 v-4.20 M313.91,8.40 v4.20 M322.46,336.40 v-4.20 M322.46,8.40 v4.20 M329.44,336.40 v-4.20 M329.44,8.40 v4.20 M335.34,336.40 v-4.20 M335.34,8.40 v4.20 M340.46,336.40 v-4.20 M340.46,8.40 v4.20 M344.97,336.40 v-4.20 M344.97,8.40 v4.20 M349.00,336.40 v-5.50 M349.00,8.40 v5.50 M375.54,336.40 v-4.20 M375.54,8.40 v4.20 M391.07,336.40 v-4.20 M391.07,8.40 v4.20 M402.08,336.40 v-4.20 M402.08,8.40 v4.20 M410.63,336.40 v-4.20 M410.63,8.40 v4.20 M417.61,336.40 v-4.20 M417.61,8.40 v4.20 M423.51,336.40 v-4.20 M423.51,8.40 v4.20 M428.62,336.40 v-4.20 M428.62,8.40 v4.20 M433.13,336.40 v-4.20 M433.13,8.40 v4.20 M437.17,336.40 v-5.50 M437.17,8.40 v5.50 M463.71,336.40 v-4.20 M463.71,8.40 v4.20 M479.23,336.40 v-4.20 M479.23,8.40 v4.20 M490.25,336.40 v-4.20 M490.25,8.40 v4.20 M498.79,336.40 v-4.20 M498.79,8.40 v4.20 M505.77,336.40 v-4.20 M505.77,8.40 v4.20 M511.68,336.40 v-4.20 M511.68,8.40 v4.20 M516.79,336.40 v-4.20 M516.79,8.40 v4.20 M521.30,336.40 v-4.20 M521.30,8.40 v4.20 M525.33,336.40 v-5.50 M525.33,8.40 v5.50 M551.87,336.40 v-4.20 M551.87,8.40 v4.20 M567.40,336.40 v-4.20 M567.40,8.40 v4.20 M578.41,336.40 v-4.20 M578.41,8.40 v4.20 M586.96,336.40 v-4.20 M586.96,8.40 v4.20 M593.94,336.40 v-4.20 M593.94,8.40 v4.20 M599.84,336.40 v-4.20 M599.84,8.40 v4.20 M604.96,336.40 v-4.20 M604.96,8.40 v4.20 M609.47,336.40 v-4.20 M609.47,8.40 v4.20 M613.50,336.40 v-5.50 M613.50,8.40 v5.50 M84.50,336.17 h3.70 M613.50,336.17 h-3.70 M84.50,322.53 h3.70 M613.50,322.53 h-3.70 M84.50,308.90 h6.30 M613.50,308.90 h-6.30 M84.50,295.26 h3.70 M613.50,295.26 h-3.70 M84.50,281.63 h3.70 M613.50,281.63 h-3.70 M84.50,268.00 h3.70 M613.50,268.00 h-3.70 M84.50,254.36 h6.30 M613.50,254.36 h-6.30 M84.50,240.72 h3.70 M613.50,240.72 h-3.70 M84.50,227.09 h3.70 M613.50,227.09 h-3.70 M84.50,213.45 h3.70 M613.50,213.45 h-3.70 M84.50,199.82 h6.30 M613.50,199.82 h-6.30 M84.50,186.18 h3.70 M613.50,186.18 h-3.70 M84.50,172.55 h3.70 M613.50,172.55 h-3.70 M84.50,158.91 h3.70 M613.50,158.91 h-3.70 M84.50,145.28 h6.30 M613.50,145.28 h-6.30 M84.50,131.64 h3.70 M613.50,131.64 h-3.70 M84.50,118.01 h3.70 M613.50,118.01 h-3.70 M84.50,104.38 h3.70 M613.50,104.38 h-3.70 M84.50,90.74 h6.30 M613.50,90.74 h-6.30 M84.50,77.10 h3.70 M613.50,77.10 h-3.70 M84.50,63.47 h3.70 M613.50,63.47 h-3.70 M84.50,49.83 h3.70 M613.50,49.83 h-3.70 M84.50,36.20 h6.30 M613.50,36.20 h-6.30 M84.50,22.56 h3.70 M613.50,22.56 h-3.70 M84.50,8.93 h3.70 M613.50,8.93 h-3.70" stroke="#000" stroke-opacity="0.6" stroke-width="0.8" fill="none"/>
<rect x="84.50" y="8.40" width="529.00" height="328.00" fill="none" stroke="#000" stroke-opacity="0.55" stroke-width="1"/>
<text class="tk" transform="translate(79.1,316.55) rotate(0.03) scale(1,1.045)" text-anchor="end">0.0</text>
<text class="tk" transform="translate(79.1,262.01) rotate(0.03) scale(1,1.045)" text-anchor="end">0.2</text>
<text class="tk" transform="translate(79.1,207.47) rotate(0.03) scale(1,1.045)" text-anchor="end">0.4</text>
<text class="tk" transform="translate(79.1,152.93) rotate(0.03) scale(1,1.045)" text-anchor="end">0.6</text>
<text class="tk" transform="translate(79.1,98.39) rotate(0.03) scale(1,1.045)" text-anchor="end">0.8</text>
<text class="tk" transform="translate(79.1,43.85) rotate(0.03) scale(1,1.045)" text-anchor="end">1.0</text>
<text class="tk" transform="translate(84.00,362.00) rotate(0.03) scale(1,1.045)" text-anchor="middle">0.01</text>
<text class="tk" transform="translate(172.17,362.00) rotate(0.03) scale(1,1.045)" text-anchor="middle">0.10</text>
<text class="tk" transform="translate(261.73,362.00) rotate(0.03) scale(1,1.045)" text-anchor="middle">1</text>
<text class="tk" transform="translate(349.30,362.00) rotate(0.03) scale(1,1.045)" text-anchor="middle">10</text>
<text class="tk" transform="translate(437.47,362.00) rotate(0.03) scale(1,1.045)" text-anchor="middle">100</text>
<text class="tk" transform="translate(526.13,362.00) rotate(0.03) scale(1,1.045)" text-anchor="middle">1000</text>
<text class="tk" transform="translate(613.30,362.00) rotate(0.03) scale(1,1.045)" text-anchor="middle">10<tspan font-size="15.5" dy="-8" dx="-0.4">4</tspan></text>
<text class="sf" transform="rotate(0.03,350.0,400.0)"><tspan x="299.19" y="403.20" font-size="25.71" textLength="78.16" lengthAdjust="spacingAndGlyphs" stroke="#fff" stroke-width="0.2">redshift</tspan><tspan x="381.40" y="403.20" font-size="25.49" textLength="16.34" lengthAdjust="spacingAndGlyphs" font-style="italic" stroke="#fff" stroke-width="0.2"> z</tspan></text>
<g transform="translate(24,200.9) rotate(-90)">
<text class="sf" transform="rotate(0.03,28.0,0.0)"><tspan x="-0.32" y="-0.52" font-size="25.48" textLength="13.95" lengthAdjust="spacingAndGlyphs" font-style="italic" stroke="#fff" stroke-width="0.2">ϕ</tspan><tspan x="15.40" y="5.62" font-size="38.57" textLength="10.00" lengthAdjust="spacingAndGlyphs" stroke="#fff" stroke-width="0.45">/</tspan><tspan x="27.78" y="-0.52" font-size="25.48" textLength="13.95" lengthAdjust="spacingAndGlyphs" font-style="italic" stroke="#fff" stroke-width="0.2">ϕ</tspan><tspan x="42.21" y="4.10" font-size="18.27" textLength="14.47" lengthAdjust="spacingAndGlyphs" >in</tspan></text>
</g>
<text class="sf" transform="rotate(0.03,738.0,105.0)"><tspan x="721.10" y="108.40" font-size="26.74" textLength="24.00" lengthAdjust="spacingAndGlyphs" font-style="italic" stroke="#fff" stroke-width="0.3">m</tspan><tspan x="744.85" y="112.04" font-size="17.20" textLength="10.11" lengthAdjust="spacingAndGlyphs" font-style="italic" >ϕ</tspan></text>
<line x1="659.1" x2="694.6" y1="146.90" y2="146.90" stroke="#00ff00" stroke-width="3.10"/>
<text class="sf" transform="rotate(0.03,760.0,154.7)"><tspan x="708.81" y="154.70" font-size="27.27" textLength="23.80" lengthAdjust="spacingAndGlyphs" stroke="#fff" stroke-width="0.2">10</tspan><tspan x="732.93" y="144.70" font-size="18.07" textLength="13.21" lengthAdjust="spacingAndGlyphs" >−</tspan><tspan x="746.58" y="143.80" font-size="18.05" textLength="32.52" lengthAdjust="spacingAndGlyphs" >28.0</tspan><tspan x="781.64" y="154.70" font-size="28.25" textLength="33.12" lengthAdjust="spacingAndGlyphs" stroke="#fff" stroke-width="0.2"> eV</tspan></text>
<line x1="659.1" x2="694.6" y1="201.60" y2="201.60" stroke="#0000ff" stroke-width="3.10"/>
<text class="sf" transform="rotate(0.03,760.0,209.4)"><tspan x="708.81" y="209.40" font-size="27.27" textLength="23.80" lengthAdjust="spacingAndGlyphs" stroke="#fff" stroke-width="0.2">10</tspan><tspan x="732.93" y="199.40" font-size="18.07" textLength="13.21" lengthAdjust="spacingAndGlyphs" >−</tspan><tspan x="746.51" y="198.50" font-size="18.05" textLength="32.62" lengthAdjust="spacingAndGlyphs" >30.3</tspan><tspan x="781.64" y="209.40" font-size="28.25" textLength="33.12" lengthAdjust="spacingAndGlyphs" stroke="#fff" stroke-width="0.2"> eV</tspan></text>
<line x1="659.1" x2="694.6" y1="256.50" y2="256.50" stroke="#ff0000" stroke-width="3.10"/>
<text class="sf" transform="rotate(0.03,760.0,264.3)"><tspan x="708.81" y="264.30" font-size="27.27" textLength="23.80" lengthAdjust="spacingAndGlyphs" stroke="#fff" stroke-width="0.2">10</tspan><tspan x="732.93" y="254.30" font-size="18.07" textLength="13.21" lengthAdjust="spacingAndGlyphs" >−</tspan><tspan x="746.50" y="253.40" font-size="18.05" textLength="32.94" lengthAdjust="spacingAndGlyphs" >31.2</tspan><tspan x="781.64" y="264.30" font-size="28.25" textLength="33.12" lengthAdjust="spacingAndGlyphs" stroke="#fff" stroke-width="0.2"> eV</tspan></text>
<line x1="659.1" x2="694.6" y1="311.40" y2="311.40" stroke="#000000" stroke-width="3.10"/>
<text class="sf" transform="rotate(0.03,760.0,319.2)"><tspan x="708.81" y="319.20" font-size="27.27" textLength="23.80" lengthAdjust="spacingAndGlyphs" stroke="#fff" stroke-width="0.2">10</tspan><tspan x="732.93" y="309.20" font-size="18.07" textLength="13.21" lengthAdjust="spacingAndGlyphs" >−</tspan><tspan x="746.51" y="308.30" font-size="18.05" textLength="32.62" lengthAdjust="spacingAndGlyphs" >32.3</tspan><tspan x="781.64" y="319.20" font-size="28.25" textLength="33.12" lengthAdjust="spacingAndGlyphs" stroke="#fff" stroke-width="0.2"> eV</tspan></text>
</svg>
</body></html>
